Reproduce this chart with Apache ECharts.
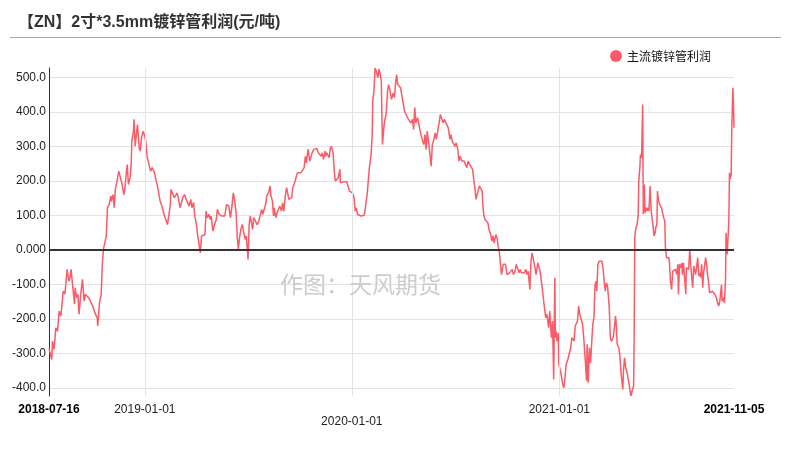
<!DOCTYPE html>
<html><head><meta charset="utf-8">
<script src="https://cdn.jsdelivr.net/npm/echarts@6/dist/echarts.min.js"></script>
<style>html,body{margin:0;padding:0;background:#fff}#c{width:791px;height:458px}</style>
</head><body><div id="c"></div>
<script>
const titleText = '【ZN】2寸*3.5mm镀锌管利润(元/吨)';
const seriesName = '主流镀锌管利润';
const watermarkText = '作图：天风期货';
const xStart = '2018-07-16';
const xEnd = '2021-11-05';
const yearTicks = ['2019-01-01', '2020-01-01', '2021-01-01'];
const yMin = -423, yMax = 528;

const dates = [
'2018-07-16','2018-07-21','2018-07-22','2018-07-25','2018-07-28','2018-07-31','2018-08-03','2018-08-06','2018-08-10','2018-08-13',
'2018-08-17','2018-08-20','2018-08-22','2018-08-24','2018-08-27','2018-08-30','2018-08-31','2018-09-03','2018-09-05','2018-09-07',
'2018-09-10','2018-09-13','2018-09-16','2018-09-18','2018-09-21','2018-09-24','2018-09-27','2018-10-01','2018-10-05','2018-10-09',
'2018-10-10','2018-10-13','2018-10-16','2018-10-18','2018-10-20','2018-10-23','2018-10-25','2018-10-27','2018-10-30','2018-11-02',
'2018-11-03','2018-11-06','2018-11-08','2018-11-10','2018-11-13','2018-11-16','2018-11-19','2018-11-22','2018-11-25','2018-11-27',
'2018-11-29','2018-12-01','2018-12-03','2018-12-06','2018-12-08','2018-12-09','2018-12-12','2018-12-13','2018-12-15','2018-12-17',
'2018-12-19','2018-12-22','2018-12-24','2018-12-26','2018-12-29',
'2019-01-01','2019-01-03','2019-01-05','2019-01-08','2019-01-11','2019-01-14','2019-01-17','2019-01-20','2019-01-23','2019-01-25',
'2019-01-28','2019-01-31','2019-02-03','2019-02-07','2019-02-10','2019-02-13','2019-02-15','2019-02-16','2019-02-19','2019-02-22',
'2019-02-24','2019-02-27','2019-03-01','2019-03-04','2019-03-07','2019-03-09','2019-03-12','2019-03-15','2019-03-18','2019-03-20',
'2019-03-23','2019-03-25','2019-03-28','2019-03-30','2019-04-02','2019-04-04','2019-04-07','2019-04-09','2019-04-11','2019-04-14',
'2019-04-17','2019-04-19','2019-04-21','2019-04-24','2019-04-26','2019-04-28','2019-05-01','2019-05-04','2019-05-07','2019-05-09',
'2019-05-12','2019-05-16','2019-05-19','2019-05-22','2019-05-25','2019-05-29','2019-06-01','2019-06-04','2019-06-06','2019-06-08',
'2019-06-11','2019-06-13','2019-06-15','2019-06-17','2019-06-20','2019-06-22','2019-06-24','2019-06-27','2019-06-29','2019-07-01',
'2019-07-02','2019-07-04','2019-07-06','2019-07-08','2019-07-10','2019-07-12','2019-07-15','2019-07-18','2019-07-21','2019-07-23',
'2019-07-26','2019-07-28','2019-07-31','2019-08-02','2019-08-04','2019-08-07','2019-08-10','2019-08-11','2019-08-14','2019-08-16',
'2019-08-17','2019-08-20','2019-08-22','2019-08-24','2019-08-27','2019-08-30','2019-09-01','2019-09-03','2019-09-06','2019-09-08',
'2019-09-10','2019-09-12','2019-09-15','2019-09-17','2019-09-19','2019-09-22','2019-09-24','2019-09-27','2019-09-30','2019-10-03',
'2019-10-06','2019-10-09','2019-10-11','2019-10-13','2019-10-15','2019-10-16','2019-10-19','2019-10-21','2019-10-23','2019-10-26',
'2019-10-28','2019-10-31','2019-11-03','2019-11-05','2019-11-08','2019-11-10','2019-11-12','2019-11-15','2019-11-16','2019-11-18',
'2019-11-20','2019-11-22','2019-11-24','2019-11-26','2019-11-29','2019-12-01','2019-12-03','2019-12-06','2019-12-08','2019-12-11',
'2019-12-12','2019-12-15','2019-12-18','2019-12-20','2019-12-23','2019-12-26','2019-12-28','2019-12-31',
'2020-01-02','2020-01-05','2020-01-07','2020-01-09','2020-01-11','2020-01-14','2020-01-17','2020-01-20','2020-01-23','2020-01-25',
'2020-01-28','2020-01-30','2020-02-01','2020-02-04','2020-02-06','2020-02-07','2020-02-09','2020-02-11','2020-02-13','2020-02-16',
'2020-02-18','2020-02-20','2020-02-22','2020-02-24','2020-02-27','2020-03-01','2020-03-02','2020-03-04','2020-03-06','2020-03-08',
'2020-03-11','2020-03-14','2020-03-16','2020-03-18','2020-03-20','2020-03-22','2020-03-24','2020-03-27','2020-03-29','2020-03-31',
'2020-04-03','2020-04-05','2020-04-07','2020-04-10','2020-04-12','2020-04-14','2020-04-17','2020-04-19','2020-04-21','2020-04-23',
'2020-04-26','2020-04-28','2020-04-30','2020-05-02','2020-05-04','2020-05-07','2020-05-09','2020-05-11','2020-05-13','2020-05-16',
'2020-05-17','2020-05-20','2020-05-22','2020-05-24','2020-05-27','2020-05-29','2020-05-31','2020-06-03','2020-06-05','2020-06-07',
'2020-06-10','2020-06-12','2020-06-15','2020-06-17','2020-06-19','2020-06-22','2020-06-24','2020-06-26','2020-06-29','2020-07-01',
'2020-07-03','2020-07-06','2020-07-08','2020-07-10','2020-07-13','2020-07-15','2020-07-17','2020-07-20','2020-07-22','2020-07-24',
'2020-07-27','2020-07-29','2020-08-01','2020-08-03','2020-08-05','2020-08-07','2020-08-09','2020-08-11','2020-08-13','2020-08-16',
'2020-08-18','2020-08-19','2020-08-21','2020-08-23','2020-08-26','2020-08-28','2020-08-30','2020-09-02','2020-09-04','2020-09-06',
'2020-09-08','2020-09-11','2020-09-13','2020-09-15','2020-09-17','2020-09-19','2020-09-21','2020-09-24','2020-09-26','2020-09-28',
'2020-10-01','2020-10-03','2020-10-05','2020-10-08','2020-10-10','2020-10-12','2020-10-15','2020-10-17','2020-10-19','2020-10-22',
'2020-10-24','2020-10-26','2020-10-29','2020-10-31','2020-11-03','2020-11-05','2020-11-07','2020-11-10','2020-11-12','2020-11-14',
'2020-11-17','2020-11-19','2020-11-21','2020-11-24','2020-11-26','2020-11-28','2020-12-01','2020-12-03','2020-12-05','2020-12-08',
'2020-12-10','2020-12-13','2020-12-15','2020-12-17','2020-12-18','2020-12-20','2020-12-22','2020-12-24','2020-12-25','2020-12-26',
'2020-12-28','2020-12-30','2020-12-31',
'2021-01-03','2021-01-05','2021-01-07','2021-01-09','2021-01-11','2021-01-13','2021-01-16','2021-01-19','2021-01-21','2021-01-23',
'2021-01-25','2021-01-27','2021-01-29','2021-02-01','2021-02-02','2021-02-04','2021-02-06','2021-02-08','2021-02-11','2021-02-13',
'2021-02-15','2021-02-18','2021-02-19','2021-02-21','2021-02-23','2021-02-25','2021-02-27','2021-03-01','2021-03-03','2021-03-05',
'2021-03-07','2021-03-08','2021-03-10','2021-03-12','2021-03-14','2021-03-17','2021-03-19','2021-03-21','2021-03-23','2021-03-25',
'2021-03-27','2021-03-30','2021-04-01','2021-04-03','2021-04-06','2021-04-08','2021-04-10','2021-04-11','2021-04-13','2021-04-16',
'2021-04-18','2021-04-20','2021-04-23','2021-04-24','2021-04-26','2021-04-28','2021-04-30','2021-05-03','2021-05-05','2021-05-07',
'2021-05-10','2021-05-12','2021-05-13','2021-05-14','2021-05-16','2021-05-18','2021-05-20','2021-05-21','2021-05-23','2021-05-24',
'2021-05-26','2021-05-28','2021-05-29','2021-05-31','2021-06-01','2021-06-03','2021-06-05','2021-06-06','2021-06-08','2021-06-10',
'2021-06-12','2021-06-13','2021-06-15','2021-06-17','2021-06-19','2021-06-20','2021-06-22','2021-06-23','2021-06-25','2021-06-27',
'2021-06-30','2021-07-02','2021-07-04','2021-07-06','2021-07-07','2021-07-09','2021-07-11','2021-07-13','2021-07-14','2021-07-16',
'2021-07-18','2021-07-20','2021-07-22','2021-07-23','2021-07-25','2021-07-27','2021-07-29','2021-07-30','2021-08-01','2021-08-03',
'2021-08-05','2021-08-06','2021-08-08','2021-08-10','2021-08-12','2021-08-13','2021-08-15','2021-08-17','2021-08-19','2021-08-21',
'2021-08-22','2021-08-24','2021-08-26','2021-08-28','2021-08-29','2021-08-31','2021-09-02','2021-09-04','2021-09-05','2021-09-07',
'2021-09-09','2021-09-11','2021-09-12','2021-09-14','2021-09-16','2021-09-18','2021-09-19','2021-09-21','2021-09-23','2021-09-25',
'2021-09-28','2021-09-30','2021-10-02','2021-10-05','2021-10-07','2021-10-09','2021-10-11','2021-10-12','2021-10-14','2021-10-15',
'2021-10-17','2021-10-19','2021-10-21','2021-10-22','2021-10-24','2021-10-25','2021-10-27','2021-10-28','2021-10-29','2021-10-31',
'2021-11-01','2021-11-03','2021-11-04','2021-11-05'
];

const profit = [
-285,-317,-264,-288,-225,-235,-177,-191,-119,-128,
-56,-90,-80,-56,-109,-157,-109,-138,-128,-186,
-128,-85,-148,-128,-128,-138,-148,-162,-182,-196,
-220,-153,-128,-42,2,7,41,123,132,157,
142,161,123,176,200,229,210,190,161,181,
219,248,190,210,248,316,345,379,301,335,
364,297,287,326,345,
330,311,272,268,229,239,229,210,205,171,
142,128,108,89,74,70,132,176,171,152,
157,166,152,123,128,152,161,147,142,128,
147,123,138,99,74,45,12,-8,41,45,
45,113,94,104,89,99,55,74,89,118,
104,99,103,99,132,128,94,132,166,147,
108,36,2,36,65,74,55,31,41,-3,
-27,74,99,94,60,94,89,74,84,99,
118,104,108,132,157,166,186,161,142,99,
123,94,108,113,128,113,137,113,161,181,
186,147,152,152,181,195,200,224,221,224,
227,239,272,253,282,292,258,258,282,292,
287,295,282,285,272,282,263,287,272,282,
282,268,295,301,282,229,200,205,210,234,
195,198,198,200,198,202,171,166,
166,152,113,123,104,99,99,96,101,123,
161,200,239,277,335,432,461,528,520,500,
525,510,490,306,364,393,403,461,480,466,
437,456,442,480,509,480,485,471,451,432,
403,408,388,379,384,369,379,350,413,369,
384,379,350,335,321,306,335,292,345,306,
311,243,306,316,340,321,340,369,393,388,
369,379,369,369,355,321,335,316,321,301,
311,292,258,272,258,263,258,263,239,258,
248,243,234,205,181,147,161,157,186,190,
171,132,99,89,84,79,60,45,26,41,
21,45,36,12,-3,-37,-71,-41,-46,-41,
-71,-71,-66,-61,-56,-71,-61,-41,-46,-66,
-56,-66,-61,-66,-56,-71,-61,-114,-32,-8,
-12,-51,-71,-37,-32,-61,-100,-128,-157,-196,
-186,-225,-177,-172,-254,-206,-375,-80,-254,-235,
-264,-240,-331,
-351,-370,-389,-399,-370,-331,-317,-317,-283,-254,
-249,-264,-220,-215,-206,-162,-186,-188,-215,-254,
-302,-379,-273,-384,-283,-327,-269,-215,-196,-100,
-90,-119,-41,-32,-30,-32,-51,-90,-119,-95,
-104,-167,-254,-264,-254,-225,-191,-206,-273,-283,
-312,-360,-404,-351,-312,-341,-351,-379,-399,-423,
-404,-394,-235,36,65,74,99,200,239,277,
268,422,104,190,108,123,113,123,113,186,
113,99,74,41,50,65,74,171,142,132,
123,108,94,84,7,-22,-27,-22,-32,-90,
-114,-61,-56,-66,-56,-71,-41,-128,-41,-51,
-37,-71,-37,-41,-128,-51,-46,-56,2,-51,
-46,-109,-46,-61,-71,-51,-22,-75,-66,-80,
-41,-109,-71,-75,-22,-46,-66,-90,-124,-124,
-119,-114,-128,-138,-153,-162,-148,-143,-100,-148,
-138,-153,-90,50,-12,16,94,224,205,219,
345,471,432,355
];

const chart = echarts.init(document.getElementById('c'), null, {renderer: 'canvas'});
const ts = s => echarts.number.parseDate(s).getTime();
const seriesData = dates.map((d, i) => [ts(d), profit[i]]);
const labelDates = [xStart].concat(yearTicks, [xEnd]);
const pad = n => (n < 10 ? '0' : '') + n;
const fmtDate = v => { const d = new Date(v); return d.getFullYear() + '-' + pad(d.getMonth() + 1) + '-' + pad(d.getDate()); };
const latin = '"Liberation Sans", Arial, sans-serif';

const option = {
  animation: false,
  backgroundColor: '#fff',
  title: {
    text: titleText,
    left: 13, top: 10,
    textStyle: {fontSize: 16, fontWeight: 'bold', color: '#333', fontFamily: '"Liberation Sans", "Noto Sans CJK SC", sans-serif'}
  },
  legend: {
    data: [seriesName],
    left: 605, top: 45,
    icon: 'circle', itemWidth: 12, itemHeight: 12, itemGap: 10,
    textStyle: {fontSize: 12, color: '#111', fontFamily: '"Noto Sans CJK SC", sans-serif'}
  },
  graphic: [
    {type: 'line', shape: {x1: 10, y1: 37.5, x2: 781, y2: 37.5}, style: {stroke: '#aaa', lineWidth: 1}, silent: true},
    {type: 'text', left: 280, top: 273, style: {text: watermarkText, fontSize: 23, fill: '#cccccc', fontFamily: '"Noto Sans CJK SC", sans-serif'}, silent: true, z: 100}
  ],
  grid: {left: 49, right: 57, top: 68, bottom: 62, containLabel: false},
  xAxis: {
    type: 'value',
    min: ts(xStart), max: ts(xEnd),
    axisLine: {show: false},
    axisTick: {show: false},
    splitLine: {show: false},
    axisLabel: {
      customValues: labelDates.map(ts),
      margin: 8,
      fontSize: 12,
      color: '#222',
      fontFamily: latin,
      hideOverlap: false,
      formatter: (v) => {
        const s = fmtDate(v);
        if (s === xStart || s === xEnd) return '{b|' + s + '}';
        if (s === '2020-01-01') return '\n' + s;
        return s;
      },
      rich: {b: {fontWeight: 'bold', color: '#000', fontSize: 12, fontFamily: latin}}
    }
  },
  yAxis: {
    type: 'value',
    min: yMin, max: yMax,
    splitNumber: 10,
    axisLine: {show: true, lineStyle: {color: '#333', width: 1}},
    axisTick: {show: false},
    splitLine: {show: true, showMinLine: false, showMaxLine: false, lineStyle: {color: '#e3e3e3', width: 1}},
    axisLabel: {
      margin: 3, fontSize: 12, color: '#222',
      fontFamily: latin,
      showMinLabel: false, showMaxLabel: false,
      formatter: v => Number(v).toPrecision(4)
    }
  },
  series: [
    {
      name: seriesName,
      type: 'line',
      data: seriesData,
      showSymbol: false,
      symbol: 'none',
      lineStyle: {color: '#fb5a66', width: 1.5},
      itemStyle: {color: '#fb5a66'},
      markLine: {
        silent: true,
        symbol: ['none', 'none'],
        label: {show: false},
        animation: false,
        data: [
          ...yearTicks.map(d => ({xAxis: ts(d), lineStyle: {color: '#e3e3e3', width: 1, type: 'solid'}})),
          {yAxis: 0, lineStyle: {color: '#333', width: 2, type: 'solid'}}
        ]
      }
    }
  ]
};
chart.setOption(option);
</script>
</body></html>
